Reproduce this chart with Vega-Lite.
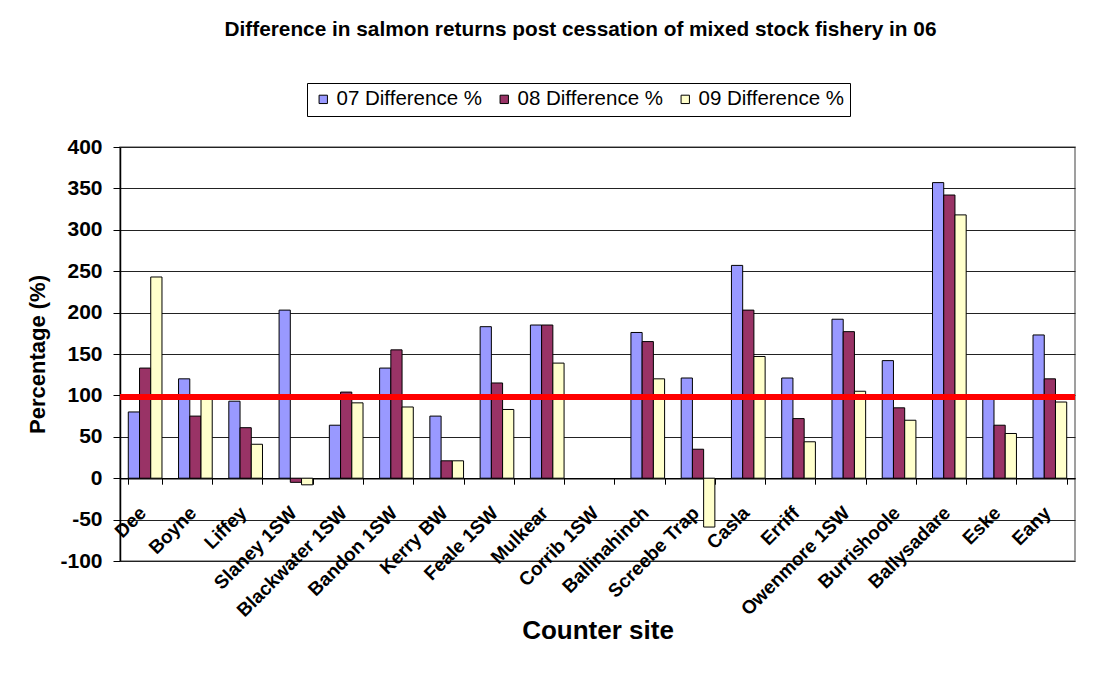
{
  "$schema": "https://vega.github.io/schema/vega-lite/v6.json",
  "autosize": {"type": "none"},
  "width": 955,
  "height": 414,
  "padding": {"left": 120, "top": 147, "right": 29, "bottom": 121},
  "background": "white",
  "config": {
    "font": "Liberation Sans",
    "view": {"stroke": "#808080", "strokeWidth": 1.5}
  },
  "title": {
    "text": "Difference in salmon returns post cessation of mixed stock fishery in 06",
    "fontSize": 20.8,
    "fontWeight": "bold",
    "font": "Liberation Sans",
    "color": "black",
    "anchor": "middle",
    "dx": -17,
    "offset": 42
  },
  "datasets": {
    "bars": [
      {"site": "Dee", "series": "07 Difference %", "value": 80},
      {"site": "Dee", "series": "08 Difference %", "value": 133},
      {"site": "Dee", "series": "09 Difference %", "value": 243},
      {"site": "Boyne", "series": "07 Difference %", "value": 120},
      {"site": "Boyne", "series": "08 Difference %", "value": 75},
      {"site": "Boyne", "series": "09 Difference %", "value": 101},
      {"site": "Liffey", "series": "07 Difference %", "value": 93},
      {"site": "Liffey", "series": "08 Difference %", "value": 61},
      {"site": "Liffey", "series": "09 Difference %", "value": 41},
      {"site": "Slaney 1SW", "series": "07 Difference %", "value": 203},
      {"site": "Slaney 1SW", "series": "08 Difference %", "value": -5},
      {"site": "Slaney 1SW", "series": "09 Difference %", "value": -8},
      {"site": "Blackwater 1SW", "series": "07 Difference %", "value": 64},
      {"site": "Blackwater 1SW", "series": "08 Difference %", "value": 104},
      {"site": "Blackwater 1SW", "series": "09 Difference %", "value": 91},
      {"site": "Bandon 1SW", "series": "07 Difference %", "value": 133},
      {"site": "Bandon 1SW", "series": "08 Difference %", "value": 155},
      {"site": "Bandon 1SW", "series": "09 Difference %", "value": 86},
      {"site": "Kerry BW", "series": "07 Difference %", "value": 75},
      {"site": "Kerry BW", "series": "08 Difference %", "value": 21},
      {"site": "Kerry BW", "series": "09 Difference %", "value": 21},
      {"site": "Feale 1SW", "series": "07 Difference %", "value": 183},
      {"site": "Feale 1SW", "series": "08 Difference %", "value": 115},
      {"site": "Feale 1SW", "series": "09 Difference %", "value": 83},
      {"site": "Mulkear", "series": "07 Difference %", "value": 185},
      {"site": "Mulkear", "series": "08 Difference %", "value": 185},
      {"site": "Mulkear", "series": "09 Difference %", "value": 139},
      {"site": "Corrib 1SW", "series": "07 Difference %", "value": null},
      {"site": "Corrib 1SW", "series": "08 Difference %", "value": null},
      {"site": "Corrib 1SW", "series": "09 Difference %", "value": null},
      {"site": "Ballinahinch", "series": "07 Difference %", "value": 176},
      {"site": "Ballinahinch", "series": "08 Difference %", "value": 165},
      {"site": "Ballinahinch", "series": "09 Difference %", "value": 120},
      {"site": "Screebe Trap", "series": "07 Difference %", "value": 121},
      {"site": "Screebe Trap", "series": "08 Difference %", "value": 35},
      {"site": "Screebe Trap", "series": "09 Difference %", "value": -59},
      {"site": "Casla", "series": "07 Difference %", "value": 257},
      {"site": "Casla", "series": "08 Difference %", "value": 203},
      {"site": "Casla", "series": "09 Difference %", "value": 147},
      {"site": "Erriff", "series": "07 Difference %", "value": 121},
      {"site": "Erriff", "series": "08 Difference %", "value": 72},
      {"site": "Erriff", "series": "09 Difference %", "value": 44},
      {"site": "Owenmore 1SW", "series": "07 Difference %", "value": 192},
      {"site": "Owenmore 1SW", "series": "08 Difference %", "value": 177},
      {"site": "Owenmore 1SW", "series": "09 Difference %", "value": 105},
      {"site": "Burrishoole", "series": "07 Difference %", "value": 142},
      {"site": "Burrishoole", "series": "08 Difference %", "value": 85},
      {"site": "Burrishoole", "series": "09 Difference %", "value": 70},
      {"site": "Ballysadare", "series": "07 Difference %", "value": 357},
      {"site": "Ballysadare", "series": "08 Difference %", "value": 342},
      {"site": "Ballysadare", "series": "09 Difference %", "value": 318},
      {"site": "Eske", "series": "07 Difference %", "value": 101},
      {"site": "Eske", "series": "08 Difference %", "value": 64},
      {"site": "Eske", "series": "09 Difference %", "value": 54},
      {"site": "Eany", "series": "07 Difference %", "value": 173},
      {"site": "Eany", "series": "08 Difference %", "value": 120},
      {"site": "Eany", "series": "09 Difference %", "value": 92}
    ],
    "threshold": [{"level": 98}]
  },
  "layer": [
    {
      "data": {"name": "bars"},
      "mark": {"type": "bar", "stroke": "black", "strokeWidth": 1},
      "encoding": {
        "x": {
          "field": "site",
          "type": "nominal",
          "sort": null,
          "scale": {
            "domain": ["Dee", "Boyne", "Liffey", "Slaney 1SW", "Blackwater 1SW", "Bandon 1SW", "Kerry BW", "Feale 1SW", "Mulkear", "Corrib 1SW", "Ballinahinch", "Screebe Trap", "Casla", "Erriff", "Owenmore 1SW", "Burrishoole", "Ballysadare", "Eske", "Eany"],
            "paddingInner": 0.33,
            "paddingOuter": 0.165
          },
          "axis": {
            "title": "Counter site",
            "titleFontSize": 26,
            "titleFontWeight": "bold",
            "titleColor": "black",
            "titleY": 160,
            "titleBaseline": "alphabetic",
            "offset": -82.8,
            "labelAngle": -45,
            "labelFontSize": 19,
            "labelFontWeight": "bold",
            "labelColor": "black",
            "labelPadding": 19,
            "labelOffset": -9,
            "labelOverlap": false,
            "labelLimit": 300,
            "tickBand": "extent",
            "tickSize": 6,
            "tickColor": "black",
            "domainColor": "black",
            "domainWidth": 1.5,
            "grid": false
          }
        },
        "xOffset": {
          "field": "series",
          "type": "nominal",
          "scale": {"paddingInner": 0, "paddingOuter": 0}
        },
        "y": {
          "field": "value",
          "type": "quantitative",
          "scale": {"domain": [-100, 400], "nice": false, "zero": false},
          "axis": {
            "title": "Percentage (%)",
            "titleFontSize": 22,
            "titleFontWeight": "bold",
            "titleColor": "black",
            "titleX": -83,
            "titleY": 207,
            "titleBaseline": "middle",
            "values": [-100, -50, 0, 50, 100, 150, 200, 250, 300, 350, 400],
            "labelExpr": "'' + datum.value",
            "labelFontSize": 21,
            "labelFontWeight": "bold",
            "labelColor": "black",
            "labelPadding": 11,
            "tickSize": 7,
            "tickColor": "black",
            "domainColor": "black",
            "domainWidth": 1.5,
            "grid": true,
            "gridColor": "#222222",
            "gridWidth": 1.2
          }
        },
        "color": {
          "field": "series",
          "type": "nominal",
          "scale": {
            "domain": ["07 Difference %", "08 Difference %", "09 Difference %"],
            "range": ["#9999FF", "#993366", "#FFFFCC"]
          },
          "legend": {
            "title": null,
            "orient": "none",
            "legendX": 187,
            "legendY": -64,
            "direction": "horizontal",
            "strokeColor": "black",
            "fillColor": "white",
            "padding": 6,
            "symbolType": "square",
            "symbolSize": 70,
            "symbolStrokeColor": "black",
            "symbolStrokeWidth": 1,
            "symbolOpacity": 1,
            "labelFontSize": 20.5,
            "labelColor": "black",
            "labelLimit": 300,
            "labelOffset": 3,
            "columnPadding": 12
          }
        }
      }
    },
    {
      "data": {"name": "threshold"},
      "mark": {"type": "rule", "color": "#FF0000", "strokeWidth": 6},
      "encoding": {
        "y": {"field": "level", "type": "quantitative"}
      }
    }
  ]
}
